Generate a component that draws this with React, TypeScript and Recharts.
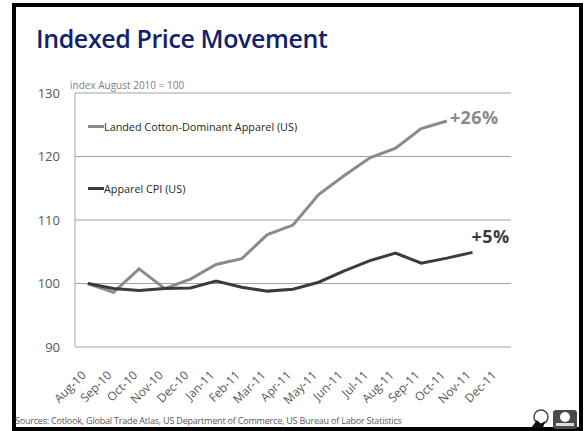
import React from 'react';
import { LineChart, Line, XAxis, YAxis, CartesianGrid } from 'recharts';

// index August 2010 = 100
const months = [
  'Aug-10', 'Sep-10', 'Oct-10', 'Nov-10', 'Dec-10', 'Jan-11', 'Feb-11', 'Mar-11', 'Apr-11',
  'May-11', 'Jun-11', 'Jul-11', 'Aug-11', 'Sep-11', 'Oct-11', 'Nov-11', 'Dec-11',
];
const landedCotton = [100, 98.6, 102.3, 99.2, 100.7, 103.0, 103.9, 107.7, 109.2, 114.0, 117.0, 119.8, 121.3, 124.4, 125.6];
const apparelCpi = [100, 99.2, 98.9, 99.2, 99.3, 100.4, 99.4, 98.8, 99.1, 100.2, 102.0, 103.6, 104.8, 103.2, 104.0, 104.9];
const yTicks = [90, 100, 110, 120, 130];
const seriesNames = ['Landed Cotton-Dominant Apparel (US)', 'Apparel CPI (US)'];
const endLabels = ['+26%', '+5%'];

const GREY = '#8a8a8a';
const DARK = '#3c3c3c';
const GRID = '#a3a3a3';
const FONT = '"Open Sans", sans-serif';

const data = months.map((m, i) => ({
  idx: i,
  month: m,
  landed: i < landedCotton.length ? landedCotton[i] : null,
  cpi: i < apparelCpi.length ? apparelCpi[i] : null,
}));

const boundaryTicks = months.map((_, i) => i - 0.5).concat(months.length - 0.5);
const centerTicks = months.map((_, i) => i);

const MonthTick = (props: any) => {
  const { x, y, payload } = props;
  const tx = x - 1;
  const ty = y + 21;
  return (
    <text
      x={tx}
      y={ty}
      transform={`rotate(-45 ${tx} ${ty})`}
      textAnchor="end"
      fontSize={12}
      fill="#595959"
      fontFamily={FONT}
    >
      {months[payload.value]}
    </text>
  );
};

const endLabel = (text: string, color: string, last: number, dx: number, dy: number) => (props: any) => {
  const { x, y, index } = props;
  if (index !== last) return <g />;
  return (
    <text x={x + dx} y={y + dy} fill={color} fontSize={18} fontWeight={700} fontFamily={FONT} letterSpacing={0.4}>
      {text}
    </text>
  );
};

const LegendItem = ({ color, label, top }: { color: string; label: string; top: number }) => (
  <div style={{ position: 'absolute', left: 88, top, display: 'flex', alignItems: 'center', whiteSpace: 'nowrap' }}>
    <span style={{ width: 16, height: 3, background: color, display: 'inline-block' }} />
    <span style={{ fontSize: 10.8, color: '#262626', fontFamily: FONT }}>{label}</span>
  </div>
);

export default function App() {
  return (
    <div style={{ position: 'absolute', left: 0, top: 0, width: 586, height: 431, background: '#fff', overflow: 'hidden' }}>
      <div
        style={{
          position: 'absolute', left: 12, top: 3, width: 571, height: 428,
          border: '4px solid #000', boxSizing: 'border-box',
        }}
      />
      <div
        style={{
          position: 'absolute', left: 36, top: 21, fontSize: 25, fontWeight: 600,
          color: '#12226b', fontFamily: FONT, letterSpacing: -0.4,
        }}
      >
        Indexed Price Movement
      </div>
      <div style={{ position: 'absolute', left: 70, top: 78, fontSize: 10, color: '#7f7f7f', fontFamily: FONT }}>
        index August 2010 = 100
      </div>
      <div style={{ position: 'absolute', left: 0, top: 0 }}>
        <LineChart width={586} height={431} data={data} margin={{ top: 93, right: 75, bottom: 24, left: 0 }}>
          <CartesianGrid xAxisId="labels" vertical={false} stroke={GRID} strokeWidth={1} />
          <XAxis
            xAxisId="marks"
            type="number"
            dataKey="idx"
            domain={[-0.5, months.length - 0.5]}
            ticks={boundaryTicks}
            tick={false}
            tickSize={5}
            tickLine={{ stroke: GRID }}
            axisLine={{ stroke: GRID }}
            height={0}
            allowDecimals
            interval={0}
          />
          <XAxis
            xAxisId="labels"
            type="number"
            dataKey="idx"
            domain={[-0.5, months.length - 0.5]}
            ticks={centerTicks}
            tick={<MonthTick />}
            tickLine={false}
            axisLine={false}
            height={60}
            interval={0}
          />
          <YAxis
            domain={[90, 130]}
            ticks={yTicks}
            width={75}
            axisLine={{ stroke: GRID }}
            tickLine={false}
            tickSize={13}
            tickMargin={2}
            tick={{ fill: '#595959', fontSize: 13, fontFamily: FONT }}
          />
          <Line
            xAxisId="labels"
            dataKey="landed"
            name={seriesNames[0]}
            stroke={GREY}
            strokeWidth={3}
            dot={false}
            type="linear"
            isAnimationActive={false}
            label={endLabel(endLabels[0], GREY, landedCotton.length - 1, 3, 3)}
          />
          <Line
            xAxisId="labels"
            dataKey="cpi"
            name={seriesNames[1]}
            stroke={DARK}
            strokeWidth={3}
            dot={false}
            type="linear"
            isAnimationActive={false}
            label={endLabel(endLabels[1], DARK, apparelCpi.length - 1, -1, -9)}
          />
        </LineChart>
      </div>
      <LegendItem color={GREY} label={seriesNames[0]} top={119} />
      <LegendItem color={DARK} label={seriesNames[1]} top={181} />
      <div style={{ position: 'absolute', left: 15, top: 414, fontSize: 9, color: '#595959', fontFamily: FONT, letterSpacing: -0.2, whiteSpace: 'nowrap' }}>
        Sources: Cotlook, Global Trade Atlas, US Department of Commerce, US Bureau of Labor Statistics
      </div>
      <svg style={{ position: 'absolute', left: 527, top: 408 }} width={52} height={22}>
        <circle cx={14} cy={9} r={7} fill="#fff" stroke="#444" strokeWidth={1.5} />
        <path d="M4 20 L10 12 L14 16 L18 13 L16 20 Z" fill="#111" />
        <rect x={26} y={2} width={24} height={19} rx={3} fill="#4a4a4a" />
        <circle cx={38} cy={9} r={5} fill="#fff" />
        <rect x={29} y={15} width={18} height={3} fill="#ddd" />
      </svg>
    </div>
  );
}
